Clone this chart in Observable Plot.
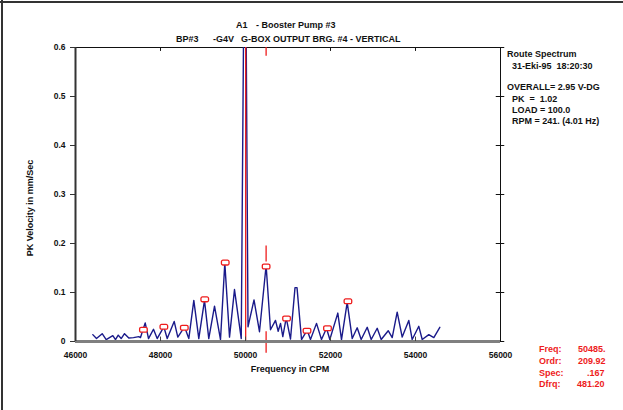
<!DOCTYPE html>
<html>
<head>
<meta charset="utf-8">
<script src="https://cdn.jsdelivr.net/npm/d3@7"></script>
<script src="https://cdn.jsdelivr.net/npm/@observablehq/plot@0.6"></script>
<style>
  html, body { margin: 0; padding: 0; background: #fff; }
  #wrap { position: relative; width: 623px; height: 410px; overflow: hidden;
          font-family: 'Liberation Sans', Arial, sans-serif; font-weight: bold; font-size: 9px; color: #111; }
  #wrap svg { position: absolute; left: 0; top: 0; }
  .t { position: absolute; white-space: pre; line-height: 10px; }
  .red { color: #ee1c1c; }
  .bl { position: absolute; background: #333; }
</style>
</head>
<body>
<div id="wrap"></div>
<script>
// ---- data ----
const freq = [46407,46494,46628,46722,46878,46941,47005,47075,47153,47254,47365,47489,47529,47640,47718,
  47835,47922,48078,48158,48322,48407,48565,48666,48784,48901,49035,49136,49271,49412,49513,49624,49741,
  49900,49988,50059,50200,50329,50485,50588,50706,50769,50824,50878,50958,51059,51165,51212,51318,51452,
  51529,51671,51788,51906,51984,52172,52259,52393,52511,52628,52722,52864,52958,53099,53193,53358,53452,
  53569,53687,53842,53922,54078,54158,54313,54431,54572];
const vel = [0.014,0.006,0.016,0.004,0.012,0.004,0.013,0.006,0.016,0.007,0.008,0.010,0.008,0.038,0.006,
  0.025,0.006,0.030,0.006,0.041,0.009,0.030,0.006,0.084,0.006,0.084,0.006,0.072,0.004,0.160,0.009,0.106,
  0.006,1.02,0.030,0.085,0.020,0.155,0.024,0.043,0.021,0.037,0.010,0.048,0.005,0.110,0.110,0.004,0.023,
  0.004,0.037,0.004,0.027,0.004,0.058,0.004,0.080,0.006,0.028,0.004,0.029,0.004,0.027,0.004,0.022,0.008,
  0.060,0.009,0.043,0.004,0.031,0.004,0.014,0.008,0.029];
const markerFreq = [47598,48079,48560,49041,49523,50485,50966,51447,51929,52410];
const markerVel  = [0.024,0.030,0.028,0.086,0.161,0.153,0.047,0.022,0.027,0.082];
const cursorFreq = 50485;
const harmonicFreq = 50004;
const cursorSegments = [[0.6,0.582],[0.195,0.162],[0.02,-0.024]];
const xTicks = [46000,48000,50000,52000,54000,56000];
const yTicks = [0,0.1,0.2,0.3,0.4,0.5,0.6];

const spectrum = freq.map((f,i) => ({f, v: vel[i]}));
const markers = markerFreq.map((f,i) => ({f, v: markerVel[i]}));
const innerTicks = xTicks.slice(1, -1);

const RED = "#ee1c1c";
const NAVY = "#1a1a8a";

const boxSymbol = {
  draw(ctx) {
    const w = 3.8, h = 2.4, r = 1.5;
    ctx.moveTo(-w + r, -h);
    ctx.lineTo(w - r, -h);
    ctx.arcTo(w, -h, w, -h + r, r);
    ctx.lineTo(w, h - r);
    ctx.arcTo(w, h, w - r, h, r);
    ctx.lineTo(-w + r, h);
    ctx.arcTo(-w, h, -w, h - r, r);
    ctx.lineTo(-w, -h + r);
    ctx.arcTo(-w, -h, -w + r, -h, r);
    ctx.closePath();
  }
};

const chart = Plot.plot({
  width: 623, height: 410,
  marginLeft: 75, marginRight: 123, marginTop: 47, marginBottom: 69,
  x: {domain: [46000, 56000]},
  y: {domain: [0, 0.6]},
  style: {fontFamily: "'Liberation Sans', Arial, sans-serif", fontSize: "8.5px", fontWeight: "bold",
          background: "transparent", overflow: "visible", color: "#111"},
  marks: [
    Plot.ruleY([0.6], {stroke: "#111", strokeWidth: 1}),
    Plot.ruleX(innerTicks, {y1: 0.6, y2: 0.592, stroke: "#111"}),
    Plot.ruleX([56000], {stroke: "#111", strokeWidth: 1}),
    Plot.ruleY(yTicks, {x1: 55900, x2: 56100, stroke: "#111"}),
    Plot.line(spectrum, {x: "f", y: "v", stroke: NAVY, strokeWidth: 1.4, clip: true}),
    Plot.ruleX([harmonicFreq], {y1: 0, y2: 0.6, stroke: RED, strokeWidth: 1.3}),
    Plot.ruleX(cursorSegments, {x: () => cursorFreq, y1: d => d[0], y2: d => d[1], stroke: RED, strokeWidth: 1.3}),
    Plot.dot(markers, {x: "f", y: "v", symbol: boxSymbol, r: 3, stroke: RED, fill: "white", strokeWidth: 1.3}),
    Plot.ruleY([0], {stroke: "#808080", strokeWidth: 3}),
    Plot.ruleX(innerTicks, {y1: 0, y2: 0.009, stroke: "#444"}),
    Plot.ruleX([46000], {stroke: "#333", strokeWidth: 2}),
    Plot.axisY({ticks: yTicks, tickSize: 5, tickPadding: 5, label: null,
                tickFormat: d => String(d), stroke: "#333"}),
    Plot.axisX({ticks: xTicks, tickSize: 0, tickPadding: 10, label: null,
                tickFormat: d => String(d)})
  ]
});

const wrap = document.getElementById("wrap");
wrap.appendChild(chart);

function addText(txt, left, cy, cls) {
  const d = document.createElement("div");
  d.className = "t" + (cls ? " " + cls : "");
  d.textContent = txt;
  d.style.left = left + "px";
  d.style.top = (cy - 5) + "px";
  wrap.appendChild(d);
  return d;
}
// frame edges
const b1 = document.createElement("div"); b1.className = "bl";
b1.style.cssText += "left:1px;top:0;width:2px;height:410px;"; wrap.appendChild(b1);
const b2 = document.createElement("div"); b2.className = "bl";
b2.style.cssText += "left:0;top:1px;width:623px;height:2px;"; wrap.appendChild(b2);

// titles
addText("A1", 236, 25);
addText("- Booster Pump #3", 256, 25);
addText("BP#3", 176, 39);
addText("-G4V", 213, 39);
addText("G-BOX OUTPUT BRG. #4 - VERTICAL", 241, 39);

// right info block
addText("Route Spectrum", 507, 54);
addText("31-Eki-95  18:20:30", 512, 66);
addText("OVERALL= 2.95 V-DG", 507, 87);
addText("PK  =  1.02", 512, 99);
addText("LOAD = 100.0", 512, 110);
addText("RPM = 241. (4.01 Hz)", 512, 121);

// cursor readout
const cur = [["Freq:", "50485.", 578], ["Ordr:", "209.92", 578], ["Spec:", ".167", 587], ["Dfrq:", "481.20", 577]];
const curY = [349, 361, 373, 384];
cur.forEach((c, i) => { addText(c[0], 539, curY[i], "red"); addText(c[1], c[2], curY[i], "red"); });

// axis titles
const xl = addText("Frequency in CPM", 0, 369);
xl.style.left = "290px"; xl.style.transform = "translateX(-50%)";
const yl = addText("PK Velocity in mm/Sec", 0, 208);
yl.style.left = "30px"; yl.style.top = "208px";
yl.style.transform = "translate(-50%,-50%) rotate(-90deg)";
</script>
</body>
</html>
